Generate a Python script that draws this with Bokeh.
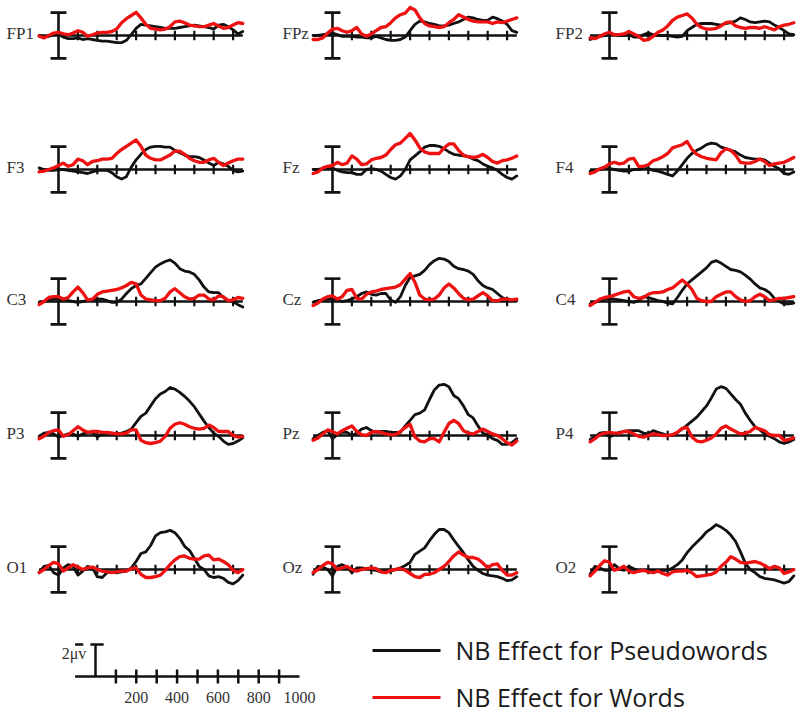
from bokeh.plotting import figure
from bokeh.layouts import column
from bokeh.models import Range1d
from bokeh.embed import file_html
from bokeh.resources import INLINE
from bokeh.core.properties import value

# ---------------- data ----------------
TIMES_MS = [-100, -75, -50, -25, 0, 25, 50, 75, 100, 125, 150, 175, 200, 225, 250, 275,
            300, 325, 350, 375, 400, 425, 450, 475, 500, 525, 550, 575, 600, 625, 650, 675,
            700, 725, 750, 775, 800, 825, 850, 875, 900, 925, 950]
TICKS_MS = [100, 200, 300, 400, 500, 600, 700, 800, 900]
CHANNEL_ROWS = [["FP1", "FPz", "FP2"], ["F3", "Fz", "F4"], ["C3", "Cz", "C4"],
                ["P3", "Pz", "P4"], ["O1", "Oz", "O2"]]

pseudo_FP1 = [0, -0.1, -0.05, 0.05, 0.05, -0.1, -0.2, -0.2, -0.15, -0.25, -0.2, -0.25,
              -0.3, -0.35, -0.35, -0.4, -0.45, -0.45, -0.3, 0.05, 0.45, 0.7, 0.65, 0.6, 0.55, 0.5, 0.45, 0.45,
              0.45, 0.5, 0.55, 0.6, 0.65, 0.6, 0.55, 0.5, 0.4, 0.65, 0.7, 0.55, 0.35, 0.1, 0.25]
words_FP1 = [-0.05, -0.15, 0.0, 0.15, 0.2, 0.1, 0.05, 0.15, 0.3, 0.2, -0.05, 0.05,
             0.15, 0.2, 0.2, 0.25, 0.4, 0.8, 1.05, 1.25, 1.45, 1.1, 0.7, 0.45, 0.4, 0.35, 0.4, 0.55,
             0.85, 0.9, 0.8, 0.65, 0.6, 0.55, 0.55, 0.65, 0.75, 0.6, 0.45, 0.5, 0.65, 0.8, 0.75]
pseudo_FPz = [0, 0, 0.05, 0.1, 0.15, 0.05, -0.05, -0.05, -0.05, -0.1, -0.1, -0.15,
              -0.15, -0.05, -0.15, -0.25, -0.3, -0.3, -0.25, -0.1, 0.3, 0.7, 0.9, 0.85, 0.75, 0.7, 0.6, 0.6,
              0.65, 0.75, 0.85, 1.0, 1.15, 1.1, 1.0, 0.95, 0.95, 1.15, 1.05, 0.9, 0.7, 0.3, 0.2]
words_FPz = [-0.25, -0.25, -0.15, 0.15, 0.4, 0.45, 0.3, 0.2, 0.3, 0.5, 0.1, -0.05,
             0.1, 0.3, 0.5, 0.55, 0.8, 1.1, 1.3, 1.4, 1.75, 1.6, 1.1, 0.75, 0.6, 0.55, 0.5, 0.55,
             0.8, 1.0, 1.3, 1.15, 1.0, 0.9, 0.85, 0.85, 0.85, 0.75, 0.85, 0.8, 0.9, 1.0, 1.1]
pseudo_FP2 = [-0.25, -0.15, -0.05, 0.0, 0.05, 0.05, 0.0, 0.0, 0.05, -0.1, -0.1, 0.05,
              0.15, 0.05, 0.0, 0.0, 0.0, -0.05, -0.1, -0.05, 0.3, 0.5, 0.7, 0.75, 0.75, 0.75, 0.7, 0.65,
              0.75, 0.8, 0.9, 1.1, 1.0, 0.85, 0.8, 0.85, 0.9, 0.85, 0.65, 0.5, 0.3, 0.1, 0.05]
words_FP2 = [-0.15, -0.2, -0.05, 0.1, 0.2, 0.05, 0.05, 0.1, 0.25, 0.1, -0.05, -0.3,
             -0.25, -0.05, 0.2, 0.35, 0.6, 0.95, 1.15, 1.25, 1.35, 1.1, 0.7, 0.5, 0.4, 0.4, 0.45, 0.6,
             0.8, 0.85, 0.6, 0.5, 0.45, 0.5, 0.5, 0.45, 0.55, 0.45, 0.35, 0.55, 0.65, 0.7, 0.8]
pseudo_F3 = [0.1, 0.0, -0.05, -0.05, 0.0, 0.0, -0.05, -0.1, -0.15, -0.2, -0.25, -0.15,
             -0.05, -0.05, -0.05, -0.2, -0.45, -0.6, -0.45, 0.15, 0.6, 0.95, 1.25, 1.4, 1.45, 1.45, 1.4, 1.4,
             1.2, 1.05, 0.9, 0.8, 0.8, 0.75, 0.6, 0.4, 0.25, 0.45, 0.35, 0.2, -0.05, -0.15, -0.1]
words_F3 = [-0.15, -0.1, 0.0, 0.1, 0.25, 0.4, 0.2, 0.3, 0.65, 0.55, 0.3, 0.5,
            0.55, 0.65, 0.65, 0.7, 1.0, 1.25, 1.45, 1.65, 1.85, 1.45, 0.9, 0.7, 0.6, 0.6, 0.75, 0.9,
            1.15, 1.15, 0.95, 0.7, 0.55, 0.45, 0.45, 0.6, 0.7, 0.45, 0.25, 0.4, 0.55, 0.65, 0.65]
pseudo_Fz = [0.0, 0.0, 0.05, 0.05, 0.1, -0.05, -0.15, -0.2, -0.2, -0.3, -0.3, 0.0,
             0.05, 0.0, -0.1, -0.3, -0.5, -0.6, -0.4, 0.0, 0.6, 0.85, 1.1, 1.4, 1.5, 1.5, 1.45, 1.3,
             1.1, 0.95, 0.9, 0.85, 0.8, 0.65, 0.55, 0.35, 0.2, 0.1, -0.05, -0.3, -0.5, -0.6, -0.4]
words_Fz = [-0.25, -0.15, 0.1, 0.2, 0.25, 0.45, 0.3, 0.4, 0.85, 0.65, 0.3, 0.35,
            0.6, 0.7, 0.75, 0.9, 1.25, 1.55, 1.65, 1.95, 2.25, 1.85, 1.35, 1.1, 1.0, 1.0, 1.0, 1.35,
            1.6, 1.6, 1.2, 0.9, 0.8, 0.75, 0.8, 0.95, 0.75, 0.5, 0.4, 0.55, 0.6, 0.7, 0.85]
pseudo_F4 = [-0.1, -0.05, 0.0, 0.05, 0.05, 0.0, -0.05, -0.1, -0.1, 0.0, 0.0, 0.05,
             0.05, -0.05, -0.1, -0.2, -0.3, -0.4, -0.1, 0.3, 0.7, 1.0, 1.2, 1.35, 1.55, 1.65, 1.6, 1.4,
             1.3, 1.2, 1.1, 0.9, 0.75, 0.7, 0.65, 0.65, 0.6, 0.4, 0.2, 0.05, -0.25, -0.3, -0.15]
words_F4 = [-0.25, -0.15, 0.05, 0.15, 0.35, 0.45, 0.35, 0.4, 0.65, 0.7, 0.2, 0.2,
            0.3, 0.55, 0.65, 0.8, 1.0, 1.35, 1.45, 1.55, 1.75, 1.25, 0.95, 0.8, 0.7, 0.65, 0.6, 1.05,
            1.3, 1.2, 0.9, 0.45, 0.4, 0.4, 0.5, 0.65, 0.5, 0.25, 0.35, 0.4, 0.45, 0.6, 0.75]
pseudo_C3 = [-0.05, 0.0, 0.1, 0.15, 0.15, 0.1, 0.05, 0.0, -0.05, 0.0, 0.05, 0.05,
             0.15, 0.15, 0.05, -0.05, -0.05, 0.15, 0.5, 0.8, 1.0, 1.1, 1.45, 1.8, 2.15, 2.35, 2.5, 2.6,
             2.4, 2.05, 1.9, 1.85, 1.7, 1.35, 0.9, 0.6, 0.55, 0.55, 0.25, 0.05, 0.0, -0.2, -0.35]
words_C3 = [-0.2, 0.0, 0.25, 0.3, 0.3, 0.15, 0.25, 0.6, 0.9, 0.55, 0.1, 0.15,
            0.45, 0.6, 0.65, 0.7, 0.75, 0.85, 1.0, 1.2, 1.1, 0.4, 0.15, 0.1, 0.05, 0.05, 0.2, 0.6,
            0.8, 0.55, 0.3, 0.15, 0.2, 0.4, 0.4, 0.15, 0.1, 0.35, 0.3, 0.05, 0.1, 0.25, 0.2]
pseudo_Cz = [-0.05, 0.05, 0.1, 0.15, 0.2, 0.1, 0.0, 0.05, 0.15, 0.3, 0.5, 0.6,
             0.45, 0.4, 0.5, 0.5, 0.1, -0.05, 0.3, 1.0, 1.5, 1.6, 1.7, 1.95, 2.3, 2.55, 2.7, 2.65,
             2.5, 2.2, 2.05, 2.0, 1.9, 1.7, 1.3, 1.0, 0.85, 0.75, 0.5, 0.25, 0.1, 0.05, 0.05]
words_Cz = [-0.25, -0.1, 0.15, 0.3, 0.35, 0.15, 0.3, 0.7, 0.75, 0.2, 0.15, 0.45,
            0.6, 0.65, 0.75, 0.8, 0.85, 0.9, 1.05, 1.4, 1.75, 1.2, 0.4, 0.15, 0.1, 0.15, 0.4, 0.85,
            1.1, 0.85, 0.5, 0.2, 0.1, 0.15, 0.35, 0.55, 0.35, 0.05, 0.05, 0.15, 0.15, 0.1, 0.15]
pseudo_C4 = [-0.15, -0.05, 0.05, 0.15, 0.2, 0.15, 0.1, 0.05, 0.0, -0.05, 0.05, 0.3,
             0.25, 0.15, 0.05, 0.0, -0.1, -0.15, 0.25, 0.7, 1.1, 1.35, 1.6, 1.85, 2.1, 2.45, 2.55, 2.4,
             2.2, 2.0, 1.95, 1.85, 1.65, 1.4, 1.1, 0.85, 0.75, 0.55, 0.2, 0.0, -0.15, -0.15, -0.1]
words_C4 = [-0.25, -0.05, 0.15, 0.25, 0.3, 0.4, 0.5, 0.6, 0.65, 0.3, 0.2, 0.25,
            0.45, 0.55, 0.55, 0.6, 0.75, 0.85, 1.1, 1.35, 1.1, 0.75, 0.2, 0.05, 0.0, 0.0, 0.3, 0.45,
            0.6, 0.6, 0.3, 0.1, 0.0, 0.05, 0.3, 0.45, 0.3, 0.05, 0.1, 0.2, 0.2, 0.25, 0.3]
pseudo_P3 = [-0.05, 0.15, 0.2, 0.1, -0.1, 0.0, 0.1, 0.1, -0.05, 0.1, 0.2, 0.2,
             -0.1, 0.1, 0.15, 0.15, 0.1, 0.15, 0.25, 0.4, 0.8, 1.2, 1.4, 1.85, 2.3, 2.6, 2.75, 3.0,
             2.9, 2.7, 2.45, 2.15, 1.8, 1.35, 0.9, 0.5, 0.15, -0.05, -0.35, -0.55, -0.5, -0.35, -0.15]
words_P3 = [-0.2, -0.05, 0.2, 0.3, 0.35, -0.05, 0.05, 0.3, 0.55, 0.35, 0.2, 0.25,
            0.25, 0.2, 0.2, 0.15, 0.1, 0.1, 0.15, 0.35, 0.35, -0.3, -0.45, -0.5, -0.45, -0.35, -0.05, 0.45,
            0.7, 0.8, 0.7, 0.55, 0.45, 0.4, 0.45, 0.65, 0.5, 0.25, 0.25, 0.25, 0.0, -0.1, -0.05]
pseudo_Pz = [-0.2, 0.0, 0.2, 0.3, -0.2, 0.05, 0.2, 0.2, 0.0, 0.15, 0.4, 0.5,
             0.3, 0.2, 0.25, 0.25, 0.2, 0.2, 0.2, 0.6, 0.95, 1.3, 1.4, 1.6, 2.25, 2.85, 3.15, 3.2,
             3.05, 2.5, 2.3, 1.85, 1.3, 1.1, 0.6, 0.15, 0.0, -0.2, -0.3, -0.55, -0.55, -0.45, -0.2]
words_Pz = [-0.3, -0.15, 0.1, 0.35, 0.25, 0.1, 0.3, 0.45, 0.6, 0.25, 0.05, 0.0,
            0.2, 0.25, 0.2, 0.1, 0.05, 0.05, 0.25, 0.5, 0.7, -0.1, -0.35, -0.4, -0.2, -0.2, -0.4, 0.2,
            0.75, 0.95, 0.75, 0.3, 0.15, 0.1, 0.25, 0.4, 0.25, 0.1, 0.0, -0.2, -0.45, -0.6, -0.35]
pseudo_P4 = [-0.25, -0.1, 0.15, 0.2, -0.1, 0.05, 0.2, 0.25, 0.3, 0.3, 0.3, 0.15,
             0.1, 0.3, 0.2, 0.1, 0.0, 0.0, 0.2, 0.4, 0.65, 0.9, 1.15, 1.5, 1.85, 2.35, 2.9, 3.05,
             2.95, 2.6, 2.25, 1.95, 1.4, 0.95, 0.55, 0.35, 0.1, -0.05, -0.2, -0.4, -0.5, -0.4, -0.25]
words_P4 = [-0.4, -0.2, 0.05, 0.15, 0.2, 0.15, 0.15, 0.25, 0.25, 0.1, -0.05, -0.1,
            0.0, 0.1, 0.05, 0.0, 0.0, 0.05, 0.2, 0.45, 0.5, -0.1, -0.35, -0.4, -0.3, -0.15, 0.1, 0.45,
            0.6, 0.4, 0.25, 0.1, 0.15, 0.25, 0.5, 0.4, 0.3, 0.05, 0.0, 0.0, -0.3, -0.25, -0.15]
pseudo_O1 = [-0.2, 0.2, 0.25, -0.2, -0.35, 0.1, 0.3, 0.2, -0.35, -0.1, 0.2, 0.1,
             -0.45, -0.5, -0.2, -0.2, -0.2, -0.15, -0.1, 0.1, 0.5, 1.0, 1.1, 1.5, 2.1, 2.3, 2.35, 2.45,
             2.3, 1.95, 1.45, 1.2, 0.7, 0.2, 0.0, -0.4, -0.5, -0.45, -0.55, -0.8, -0.9, -0.7, -0.35]
words_O1 = [-0.2, 0.0, 0.25, 0.45, 0.35, -0.1, 0.1, 0.3, 0.15, 0.0, 0.1, 0.15,
            0.0, -0.1, -0.15, -0.2, -0.15, -0.1, -0.1, 0.05, 0.1, -0.3, -0.5, -0.5, -0.45, -0.35, -0.05, 0.3,
            0.6, 0.8, 0.85, 0.7, 0.65, 0.65, 0.85, 0.9, 0.6, 0.65, 0.5, 0.3, -0.05, -0.2, 0.0]
pseudo_Oz = [-0.3, 0.2, 0.15, 0.0, -0.4, 0.2, 0.3, 0.15, -0.2, 0.1, 0.1, 0.05,
             0.0, -0.05, -0.15, -0.1, -0.1, 0.0, 0.1, 0.25, 0.45, 0.95, 1.15, 1.35, 1.8, 2.2, 2.5, 2.5,
             2.3, 1.85, 1.45, 1.05, 0.6, 0.2, -0.05, -0.25, -0.35, -0.4, -0.45, -0.55, -0.7, -0.65, -0.45]
words_Oz = [-0.2, 0.0, 0.25, 0.45, 0.35, 0.0, 0.1, 0.2, 0.0, -0.1, 0.0, 0.05,
            0.1, 0.05, -0.15, -0.2, -0.05, 0.0, 0.05, -0.05, -0.25, -0.45, -0.5, -0.3, -0.3, -0.2, 0.0, 0.2,
            0.5, 0.85, 1.1, 0.9, 0.75, 0.75, 0.65, 0.4, 0.1, 0.3, 0.35, -0.05, -0.35, -0.35, -0.2]
pseudo_O2 = [-0.3, 0.2, 0.1, -0.05, -0.05, 0.3, 0.05, -0.05, 0.2, 0.05, -0.1, -0.05,
             -0.05, -0.05, -0.1, -0.05, -0.05, 0.1, 0.3, 0.6, 1.05, 1.4, 1.7, 2.0, 2.35, 2.55, 2.8, 2.65,
             2.45, 2.15, 1.75, 1.1, 0.4, 0.0, -0.2, -0.45, -0.55, -0.6, -0.65, -0.75, -0.85, -0.75, -0.4]
words_O2 = [-0.4, -0.1, 0.25, 0.55, 0.45, -0.05, 0.05, 0.2, -0.1, -0.2, -0.1, -0.05,
            -0.15, -0.2, -0.1, -0.25, -0.35, -0.15, -0.1, -0.1, -0.05, -0.2, -0.45, -0.4, -0.35, -0.3, -0.15, 0.2,
            0.45, 0.8, 0.65, 0.45, 0.4, 0.45, 0.5, 0.4, 0.25, 0.05, 0.2, 0.1, -0.25, -0.15, 0.0]

PSEUDOWORDS = {"FP1": pseudo_FP1, "FPz": pseudo_FPz, "FP2": pseudo_FP2,
               "F3": pseudo_F3, "Fz": pseudo_Fz, "F4": pseudo_F4,
               "C3": pseudo_C3, "Cz": pseudo_Cz, "C4": pseudo_C4,
               "P3": pseudo_P3, "Pz": pseudo_Pz, "P4": pseudo_P4,
               "O1": pseudo_O1, "Oz": pseudo_Oz, "O2": pseudo_O2}
WORDS = {"FP1": words_FP1, "FPz": words_FPz, "FP2": words_FP2,
         "F3": words_F3, "Fz": words_Fz, "F4": words_F4,
         "C3": words_C3, "Cz": words_Cz, "C4": words_C4,
         "P3": words_P3, "Pz": words_Pz, "P4": words_P4,
         "O1": words_O1, "Oz": words_Oz, "O2": words_O2}

SCALE_TICKS_MS = [100, 200, 300, 400, 500, 600, 700, 800, 900]
SCALE_LABEL_MS = [200, 400, 600, 800, 1000]
SCALE_LABELS = ["200", "400", "600", "800", "1000"]
SCALE_UV = 2
SCALE_TEXT = "2\u03bcv"
LEGEND_LABELS = ["NB Effect for Pseudowords", "NB Effect for Words"]

# ---------------- layout / style ----------------
BLACK = "#111111"
RED = "#ee1111"
SERIF = value("Liberation Serif")
W = 800
H_TOP = 620
H_BOT = 97
PX_MS = 0.194          # px per ms in panels
PX_UV = 16.0           # px per microvolt
COL_ZERO_PX = [58, 332, 609]
ROW_BASE_PX = [35, 169, 301, 435, 569]
LABEL_DX = [-268, -258, -278]
BAR_UV = 1.43

x0 = -COL_ZERO_PX[0] / PX_MS
top = figure(width=W, height=H_TOP, output_backend="svg", toolbar_location=None,
             x_range=Range1d(x0, x0 + W / PX_MS), y_range=Range1d(-H_TOP / PX_UV, 0),
             x_axis_type=None, y_axis_type=None, min_border=0,
             outline_line_color=None, background_fill_color="white", border_fill_color="white")

for r, row in enumerate(CHANNEL_ROWS):
    yo = -ROW_BASE_PX[r] / PX_UV
    for c, ch in enumerate(row):
        xo = (COL_ZERO_PX[c] - COL_ZERO_PX[0]) / PX_MS
        # baseline + ticks
        top.segment(x0=[xo + TIMES_MS[0]], x1=[xo + TIMES_MS[-1]], y0=[yo], y1=[yo],
                    line_color=BLACK, line_width=2.6)
        top.segment(x0=[xo + t for t in TICKS_MS], x1=[xo + t for t in TICKS_MS],
                    y0=[yo - 0.3] * len(TICKS_MS), y1=[yo + 0.3] * len(TICKS_MS),
                    line_color=BLACK, line_width=2.2)
        # vertical bar with caps
        top.segment(x0=[xo, xo - 41, xo - 41], x1=[xo, xo + 41, xo + 41],
                    y0=[yo - BAR_UV, yo + BAR_UV, yo - BAR_UV],
                    y1=[yo + BAR_UV, yo + BAR_UV, yo - BAR_UV],
                    line_color=BLACK, line_width=2.6)
        # waveforms
        top.line(x=[xo + t for t in TIMES_MS], y=[yo + v for v in PSEUDOWORDS[ch]],
                 line_color=BLACK, line_width=2.8, line_join="round", line_cap="round")
        top.line(x=[xo + t for t in TIMES_MS], y=[yo + v for v in WORDS[ch]],
                 line_color=RED, line_width=3.3, line_join="round", line_cap="round")
        top.text(x=[xo + LABEL_DX[c]], y=[yo + 0.12], text=[ch], text_font=SERIF,
                 text_font_size="17px", text_color="#333333",
                 text_align="left", text_baseline="middle")

# ---------------- bottom: scale bar + legend ----------------
PX_MS_B = 0.204
ZERO_B_PX = 95
BASE_B_PX = 676
bx0 = -ZERO_B_PX / PX_MS_B
by_top = (BASE_B_PX - H_TOP) / PX_UV
bot = figure(width=W, height=H_BOT, output_backend="svg", toolbar_location=None,
             x_range=Range1d(bx0, bx0 + W / PX_MS_B), y_range=Range1d(by_top - H_BOT / PX_UV, by_top),
             x_axis_type=None, y_axis_type=None, min_border=0,
             outline_line_color=None, background_fill_color="white", border_fill_color="white")

bot.segment(x0=[-100], x1=[1000], y0=[0], y1=[0], line_color=BLACK, line_width=2.5)
bot.segment(x0=SCALE_TICKS_MS, x1=SCALE_TICKS_MS, y0=[-0.44] * len(SCALE_TICKS_MS),
            y1=[0.44] * len(SCALE_TICKS_MS), line_color=BLACK, line_width=2.5)
bot.segment(x0=[0, -25, -100], x1=[0, 40, -60], y0=[0, SCALE_UV, SCALE_UV],
            y1=[SCALE_UV, SCALE_UV, SCALE_UV], line_color=BLACK, line_width=2.5)
bot.text(x=[-45], y=[1.45], text=[SCALE_TEXT], text_font=SERIF, text_font_size="16px",
         text_color="#333333", text_align="right", text_baseline="middle")
bot.text(x=SCALE_LABEL_MS, y=[-1.31] * len(SCALE_LABEL_MS), text=SCALE_LABELS, text_font=SERIF,
         text_font_size="16px", text_color="#333333", text_align="center", text_baseline="middle")

leg_x0 = (372 - ZERO_B_PX) / PX_MS_B
leg_x1 = (440 - ZERO_B_PX) / PX_MS_B
leg_tx = (455 - ZERO_B_PX) / PX_MS_B
leg_y = [(BASE_B_PX - 650) / PX_UV, (BASE_B_PX - 697) / PX_UV]
for i, (lab, col) in enumerate(zip(LEGEND_LABELS, [BLACK, RED])):
    bot.segment(x0=[leg_x0], x1=[leg_x1], y0=[leg_y[i]], y1=[leg_y[i]], line_color=col, line_width=3)
    bot.text(x=[leg_tx], y=[leg_y[i] + 0.06], text=[lab], text_font=value("Open Sans"),
             text_font_size="25px", text_color="#1a1a1a", text_align="left", text_baseline="middle")

layout = column(top, bot, spacing=0)
open("out.html", "w").write(file_html(layout, INLINE))
